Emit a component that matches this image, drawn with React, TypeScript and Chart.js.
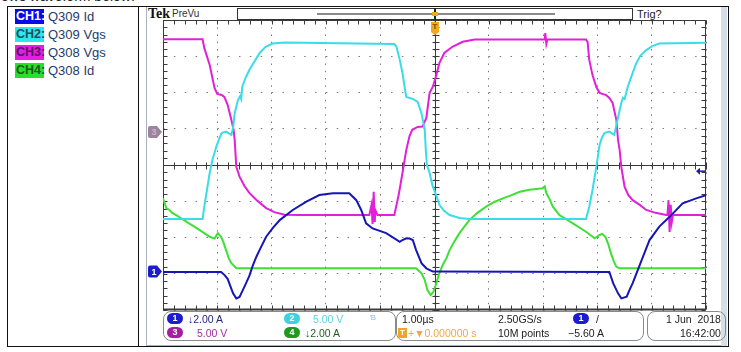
import React, { useEffect, useRef } from "react";
import { Chart, registerables } from "chart.js";

Chart.register(...registerables);

// Time axis: microseconds (1.00 µs/div, trigger at 0). Vertical values: screen divisions.
const xTicks = [-5, -4, -3, -2, -1, 0, 1, 2, 3, 4, 5];
const yTicks = [-4, -3, -2, -1, 0, 1, 2, 3, 4];

// CH1: Q309 Id (blue)
const ch1Time = [-5.0, -3.93, -3.87, -3.81, -3.78, -3.71, -3.65, -3.59, -3.53, -3.47, -3.41, -3.35, -3.28, -3.22, -3.1, -2.98, -2.85, -2.61, -2.36, -2.12, -1.87, -1.57, -1.44, -1.35, -1.26, -1.14, -0.89, -0.64, -0.59, -0.52, -0.46, -0.4, -0.34, -0.24, -0.15, -0.03, 3.22, 3.29, 3.38, 3.44, 3.54, 3.59, 3.65, 3.72, 3.84, 3.96, 4.14, 4.33, 4.57, 4.82, 5.0];
const ch1Div = [-2.95, -2.95, -3.03, -3.14, -3.26, -3.54, -3.68, -3.64, -3.45, -3.26, -3.06, -2.79, -2.53, -2.34, -1.98, -1.74, -1.52, -1.24, -1.01, -0.83, -0.78, -0.78, -0.97, -1.24, -1.61, -1.75, -1.88, -2.12, -2.07, -2.02, -2.03, -2.07, -2.34, -2.71, -2.85, -2.94, -2.95, -3.26, -3.54, -3.68, -3.63, -3.45, -3.26, -2.99, -2.53, -2.07, -1.7, -1.43, -1.06, -0.92, -0.83];

// CH2: Q309 Vgs (cyan)
const ch2Time = [-5.0, -4.27, -4.24, -4.14, -4.09, -4.02, -3.96, -3.92, -3.84, -3.74, -3.71, -3.68, -3.62, -3.58, -3.56, -3.54, -3.48, -3.41, -3.31, -3.22, -3.11, -2.98, -2.76, -0.74, -0.7, -0.64, -0.59, -0.55, -0.52, -0.46, -0.41, -0.31, -0.24, -0.18, -0.16, -0.14, -0.09, -0.04, 0.03, 0.09, 0.18, 0.28, 0.46, 0.64, 2.79, 2.85, 2.91, 2.98, 3.04, 3.08, 3.13, 3.22, 3.31, 3.37, 3.44, 3.47, 3.5, 3.56, 3.63, 3.71, 3.79, 3.9, 4.01, 4.14, 5.0];
const ch2Div = [-1.49, -1.49, -1.15, -0.22, 0.14, 0.5, 0.74, 0.88, 0.92, 0.83, 1.02, 1.43, 1.79, 1.9, 1.82, 2.16, 2.4, 2.62, 2.87, 3.09, 3.26, 3.35, 3.38, 3.34, 3.26, 2.9, 2.54, 2.15, 1.88, 1.85, 1.83, 1.74, 1.43, 0.97, 0.41, 0.0, -0.22, -0.55, -0.83, -1.1, -1.27, -1.38, -1.46, -1.49, -1.49, -1.15, -0.69, -0.05, 0.55, 0.74, 0.88, 0.92, 0.83, 1.24, 1.71, 1.85, 1.82, 2.16, 2.46, 2.79, 3.01, 3.17, 3.28, 3.35, 3.37];

// CH3: Q308 Vgs (magenta)
const ch3Time = [-5.0, -4.27, -4.24, -4.14, -4.05, -4.0, -3.92, -3.87, -3.81, -3.74, -3.7, -3.68, -3.65, -3.59, -3.5, -3.41, -3.26, -3.1, -2.95, -2.76, -2.49, -1.2, -1.16, -1.14, -1.12, -1.1, -1.09, -1.05, -0.74, -0.66, -0.59, -0.52, -0.46, -0.41, -0.31, -0.22, -0.15, -0.09, -0.03, 0.03, 0.09, 0.18, 0.33, 0.52, 0.74, 2.03, 2.04, 2.06, 2.08, 2.79, 2.82, 2.85, 2.91, 2.98, 3.04, 3.16, 3.22, 3.28, 3.35, 3.38, 3.41, 3.44, 3.5, 3.57, 3.65, 3.78, 3.9, 4.07, 4.27, 4.29, 4.31, 4.33, 4.35, 4.37, 4.39, 5.0];
const ch3Div = [3.47, 3.47, 3.23, 2.76, 2.12, 1.96, 1.93, 1.88, 1.66, 1.24, 0.97, 0.69, -0.05, -0.32, -0.58, -0.77, -0.99, -1.19, -1.3, -1.37, -1.38, -1.38, -1.1, -1.63, -0.74, -1.57, -1.24, -1.38, -1.38, -0.83, -0.22, 0.41, 0.8, 0.97, 1.05, 1.06, 1.3, 1.99, 2.16, 2.46, 2.81, 3.09, 3.26, 3.4, 3.46, 3.46, 3.64, 3.34, 3.46, 3.46, 3.39, 2.9, 2.48, 2.15, 1.99, 1.93, 1.85, 1.71, 1.24, 0.69, 0.41, -0.05, -0.6, -0.83, -0.97, -1.1, -1.24, -1.32, -1.38, -1.38, -0.97, -1.85, -1.1, -1.57, -1.38, -1.38];

// CH4: Q308 Id (green)
const ch4Time = [-5.0, -4.97, -4.94, -4.88, -4.83, -4.76, -4.57, -4.33, -4.14, -4.05, -3.99, -3.93, -3.89, -3.84, -3.79, -3.74, -3.65, -0.34, -0.24, -0.18, -0.13, -0.07, -0.02, 0.04, 0.09, 0.15, 0.22, 0.28, 0.37, 0.46, 0.64, 0.79, 0.95, 1.1, 1.26, 1.42, 1.57, 1.75, 1.99, 2.03, 2.06, 2.12, 2.18, 2.3, 2.55, 2.79, 2.95, 3.04, 3.09, 3.15, 3.2, 3.25, 3.3, 3.35, 3.41, 5.0];
const ch4Div = [-0.92, -1.05, -1.19, -1.24, -1.32, -1.38, -1.56, -1.79, -1.98, -2.03, -1.88, -1.98, -2.12, -2.34, -2.57, -2.71, -2.85, -2.85, -2.99, -3.17, -3.45, -3.59, -3.5, -3.23, -2.98, -2.76, -2.57, -2.34, -2.1, -1.88, -1.52, -1.32, -1.15, -1.02, -0.92, -0.83, -0.74, -0.68, -0.64, -0.59, -0.78, -0.94, -1.15, -1.38, -1.61, -1.84, -2.02, -1.93, -1.9, -1.99, -2.18, -2.44, -2.65, -2.81, -2.85, -2.85];

// Ground markers and trigger level (divisions)
const ch1Marker = -2.94;
const ch3Marker = 0.91;
const triggerLevel = -0.17;

const legendRows = [
  { tag: "CH1:", label: "Q309 Id", bg: "#0a0ae6", fg: "#ffffff" },
  { tag: "CH2:", label: "Q309 Vgs", bg: "#2ee6ee", fg: "#1b4f5c" },
  { tag: "CH3:", label: "Q308 Vgs", bg: "#e21ee2", fg: "#5a1262" },
  { tag: "CH4:", label: "Q308 Id", bg: "#28e028", fg: "#1a5a1a" },
];

const toPts = (t: number[], v: number[]) => t.map((x, i) => ({ x, y: v[i] }));

const scopePlugin = {
  id: "scopeDecor",
  beforeDatasetsDraw(chart: any) {
    const { ctx, chartArea: a, scales } = chart;
    const x = scales.x, y = scales.y;
    ctx.save();
    ctx.strokeStyle = "#3a3a3a";
    ctx.lineWidth = 1;
    ctx.beginPath();
    const L = Math.round(a.left) + 0.5, R = Math.round(a.right) - 0.5;
    const T = Math.round(a.top) + 0.5, B = Math.round(a.bottom) - 0.5;
    ctx.moveTo(L, T); ctx.lineTo(R, T); ctx.lineTo(R, B); ctx.lineTo(L, B); ctx.closePath();
    const cx = Math.round(x.getPixelForValue(0)) + 0.5;
    const cy = Math.round(y.getPixelForValue(0)) + 0.5;
    ctx.moveTo(a.left, cy); ctx.lineTo(a.right, cy);
    ctx.moveTo(cx, a.top); ctx.lineTo(cx, a.bottom);
    for (let i = -25; i <= 25; i++) {
      const px = Math.round(x.getPixelForValue(i / 5)) + 0.5;
      ctx.moveTo(px, cy - 3); ctx.lineTo(px, cy + 4);
      ctx.moveTo(px, T); ctx.lineTo(px, T + 4);
      ctx.moveTo(px, B); ctx.lineTo(px, B - 4);
    }
    for (let i = -20; i <= 20; i++) {
      const py = Math.round(y.getPixelForValue(i / 5)) + 0.5;
      ctx.moveTo(cx - 3, py); ctx.lineTo(cx + 4, py);
      ctx.moveTo(L, py); ctx.lineTo(L + 4, py);
      ctx.moveTo(R, py); ctx.lineTo(R - 4, py);
    }
    ctx.stroke();
    ctx.lineWidth = 2;
    ctx.beginPath();
    ctx.moveTo(a.left, B); ctx.lineTo(a.right, B);
    ctx.stroke();
    ctx.restore();
  },
  afterDraw(chart: any) {
    const { ctx, chartArea: a, scales } = chart;
    const x = scales.x, y = scales.y;
    ctx.save();
    const marker = (val: number, fill: string, txt: string, txtColor: string) => {
      const py = y.getPixelForValue(val);
      const l = a.left - 15, r = a.left - 1;
      ctx.fillStyle = fill;
      ctx.beginPath();
      ctx.moveTo(l + 2, py - 6);
      ctx.lineTo(r - 5, py - 6);
      ctx.lineTo(r, py);
      ctx.lineTo(r - 5, py + 6);
      ctx.lineTo(l + 2, py + 6);
      ctx.quadraticCurveTo(l, py + 6, l, py + 4);
      ctx.lineTo(l, py - 4);
      ctx.quadraticCurveTo(l, py - 6, l + 2, py - 6);
      ctx.fill();
      ctx.fillStyle = txtColor;
      ctx.font = "bold 9px 'Liberation Sans', Arial, sans-serif";
      ctx.textAlign = "center";
      ctx.textBaseline = "middle";
      ctx.fillText(txt, l + 6, py + 0.5);
    };
    marker(ch3Marker, "#9c859c", "3", "#c9b8c9");
    marker(ch1Marker, "#1b1bd0", "1", "#ffffff");

    // trigger level arrow (right side)
    const ty = y.getPixelForValue(triggerLevel);
    ctx.strokeStyle = "#1b1bb0";
    ctx.fillStyle = "#1b1bb0";
    ctx.lineWidth = 1.5;
    ctx.beginPath();
    ctx.moveTo(a.right - 8, ty); ctx.lineTo(a.right - 1, ty);
    ctx.stroke();
    ctx.beginPath();
    ctx.moveTo(a.right - 10, ty); ctx.lineTo(a.right - 6, ty - 3.5); ctx.lineTo(a.right - 6, ty + 3.5);
    ctx.closePath(); ctx.fill();

    // trigger position marker (top)
    const tx = Math.round(x.getPixelForValue(0));
    ctx.fillStyle = "#222";
    ctx.fillRect(tx - 1, a.top - 12, 2, 12);
    ctx.fillStyle = "#f2a81e";
    ctx.fillRect(tx - 3, a.top - 8, 6, 4);
    ctx.beginPath();
    ctx.moveTo(tx - 4, a.top + 2);
    ctx.lineTo(tx + 4, a.top + 2);
    ctx.lineTo(tx + 4, a.top + 12);
    ctx.lineTo(tx, a.top + 15);
    ctx.lineTo(tx - 4, a.top + 12);
    ctx.closePath();
    ctx.fill();
    ctx.fillStyle = "#7a4a00";
    ctx.font = "bold 8px 'Liberation Sans', Arial, sans-serif";
    ctx.textAlign = "center";
    ctx.textBaseline = "middle";
    ctx.fillText("T", tx, a.top + 7);
    ctx.restore();
  },
};

function ScopeChart() {
  const ref = useRef<HTMLCanvasElement>(null);
  useEffect(() => {
    if (!ref.current) return;
    const mk = (label: string, t: number[], v: number[], color: string) => ({
      label,
      data: toPts(t, v),
      borderColor: color,
      backgroundColor: color,
      borderWidth: 2,
      pointRadius: 0,
      tension: 0,
      fill: false,
    });
    const chart = new Chart(ref.current, {
      type: "line",
      data: {
        datasets: [
          mk("CH1 Q309 Id", ch1Time, ch1Div, "#1616b4"),
          mk("CH2 Q309 Vgs", ch2Time, ch2Div, "#3adce6"),
          mk("CH3 Q308 Vgs", ch3Time, ch3Div, "#e020da"),
          mk("CH4 Q308 Id", ch4Time, ch4Div, "#3ee034"),
        ],
      },
      options: {
        animation: false,
        responsive: false,
        maintainAspectRatio: false,
        layout: { padding: { left: 17, top: 12, right: 16, bottom: 2 } },
        plugins: { legend: { display: false }, tooltip: { enabled: false } },
        scales: {
          x: {
            type: "linear",
            min: xTicks[0],
            max: xTicks[xTicks.length - 1],
            afterBuildTicks: (s: any) => { s.ticks = xTicks.map((v) => ({ value: v })); },
            ticks: { display: false },
            grid: { color: "#7c7c7c", lineWidth: 1, drawTicks: false },
            border: { display: false, dash: [1.5, 5.75] },
          },
          y: {
            type: "linear",
            min: yTicks[0],
            max: yTicks[yTicks.length - 1],
            afterBuildTicks: (s: any) => { s.ticks = yTicks.map((v) => ({ value: v })); },
            ticks: { display: false },
            grid: { color: "#7c7c7c", lineWidth: 1, drawTicks: false },
            border: { display: false, dash: [1.5, 9.36] },
          },
        },
      },
      plugins: [scopePlugin],
    } as any);
    return () => chart.destroy();
  }, []);
  return (
    <canvas
      ref={ref}
      width={576}
      height={304}
      style={{ position: "absolute", left: 146, top: 8, width: 576, height: 304, display: "block" }}
    />
  );
}

const abs = (l: number, t: number, extra: React.CSSProperties = {}): React.CSSProperties => ({
  position: "absolute",
  left: l,
  top: t,
  whiteSpace: "nowrap",
  ...extra,
});

const scopeFont = "'Liberation Sans', Arial, sans-serif";

function Pill({ l, t, n, bg }: { l: number; t: number; n: string; bg: string }) {
  return (
    <div
      style={abs(l, t, {
        width: 16,
        height: 11,
        borderRadius: 6,
        background: bg,
        color: "#fff",
        font: `bold 9px ${scopeFont}`,
        lineHeight: "11px",
        textAlign: "center",
      })}
    >
      {n}
    </div>
  );
}

function T({ l, t, c, s = 10.5, children }: { l: number; t: number; c: string; s?: number; children: React.ReactNode }) {
  return <div style={abs(l, t, { color: c, font: `${s}px ${scopeFont}`, lineHeight: "12px" })}>{children}</div>;
}

export default function App() {
  const r1 = 313;
  const r2 = 327;
  return (
    <div
      style={{
        position: "fixed",
        left: 0,
        top: 0,
        width: 741,
        height: 352,
        background: "#fff",
        overflow: "hidden",
        fontFamily: scopeFont,
      }}
    >
      <div style={abs(1, -12, { font: "14px 'Liberation Sans', Arial, sans-serif", lineHeight: "16px", color: "#222" })}>ows waveform below:</div>
      {/* table lines */}
      <div style={abs(7, 6, { width: 722, height: 341, border: "1px solid #111", boxSizing: "border-box" })} />
      <div style={abs(138, 6, { width: 1, height: 341, background: "#111" })} />
      {/* legend */}
      {legendRows.map((r, i) => (
        <div key={r.tag} style={abs(15, 9 + i * 18, { height: 15, display: "flex", alignItems: "center" })}>
          <span
            style={{
              background: r.bg,
              color: r.fg,
              font: "bold 12.5px 'Liberation Sans', Arial, sans-serif",
              padding: "0 0 0 1px",
              width: 28,
              height: 15,
              lineHeight: "15px",
              display: "inline-block",
            }}
          >
            {r.tag}
          </span>
          <span style={{ marginLeft: 4, font: "13px 'Liberation Sans', Arial, sans-serif", color: "#243b6b" }}>{r.label}</span>
        </div>
      ))}
      {/* scope screenshot frame */}
      <div style={abs(146, 7, { width: 577, height: 339, borderLeft: "1px solid #a8b4c2", borderBottom: "1px solid #a8b4c2", boxSizing: "border-box" })} />
      <div style={abs(721, 7, { width: 6, height: 339, background: "#d6dee8" })} />
      {/* top bar */}
      <div style={abs(148, 6, { font: "bold 14px 'Liberation Serif', serif", color: "#111", lineHeight: "15px" })}>Tek</div>
      <T l={172} t={8} c="#333" s={10}>PreVu</T>
      <div style={abs(237, 8, { width: 396, height: 12, border: "1px solid #333", boxSizing: "border-box", background: "#fff" })} />
      <div style={abs(317, 13, { width: 238, height: 2, background: "#8a8a8a" })} />
      <T l={637} t={8} c="#222" s={11}>Trig?</T>

      <ScopeChart />

      {/* bottom info panels */}
      <div style={abs(163, 311, { width: 233, height: 30, border: "1px solid #8a8a8a", borderRadius: 8, boxSizing: "border-box" })} />
      <div style={abs(396, 311, { width: 248, height: 30, border: "1px solid #8a8a8a", borderRadius: 8, boxSizing: "border-box" })} />
      <div style={abs(647, 311, { width: 79, height: 30, border: "1px solid #8a8a8a", borderRadius: 8, boxSizing: "border-box" })} />

      <Pill l={167} t={r1} n="1" bg="#1b1bd0" />
      <T l={188} t={r1} c="#262680">↓2.00 A</T>
      <Pill l={284} t={r1} n="2" bg="#3cd2df" />
      <T l={313} t={r1} c="#5fd3de">5.00 V</T>
      <T l={370} t={r1 - 1} c="#8fb6e6" s={8}>Ɓ</T>
      <Pill l={167} t={r2} n="3" bg="#a41ea4" />
      <T l={197} t={r2} c="#a12ea1">5.00 V</T>
      <Pill l={284} t={r2} n="4" bg="#1f9a1f" />
      <T l={305} t={r2} c="#1e5e1e">↓2.00 A</T>

      <T l={402} t={r1} c="#222">1.00µs</T>
      <div style={abs(398, r2 + 1, { width: 9, height: 10, background: "#f0a624", color: "#fff", font: `bold 8px ${scopeFont}`, lineHeight: "10px", textAlign: "center" })}>T</div>
      <T l={408} t={r2} c="#eda846">+▼0.000000 s</T>
      <T l={498} t={r1} c="#222">2.50GS/s</T>
      <T l={498} t={r2} c="#222">10M points</T>
      <Pill l={573} t={r1} n="1" bg="#1b1bd0" />
      <T l={596} t={r1} c="#222">/</T>
      <T l={568} t={r2} c="#222">−5.60 A</T>

      <T l={666} t={r1} c="#222">1 Jun&nbsp; 2018</T>
      <T l={680} t={r2} c="#222">16:42:00</T>
    </div>
  );
}
